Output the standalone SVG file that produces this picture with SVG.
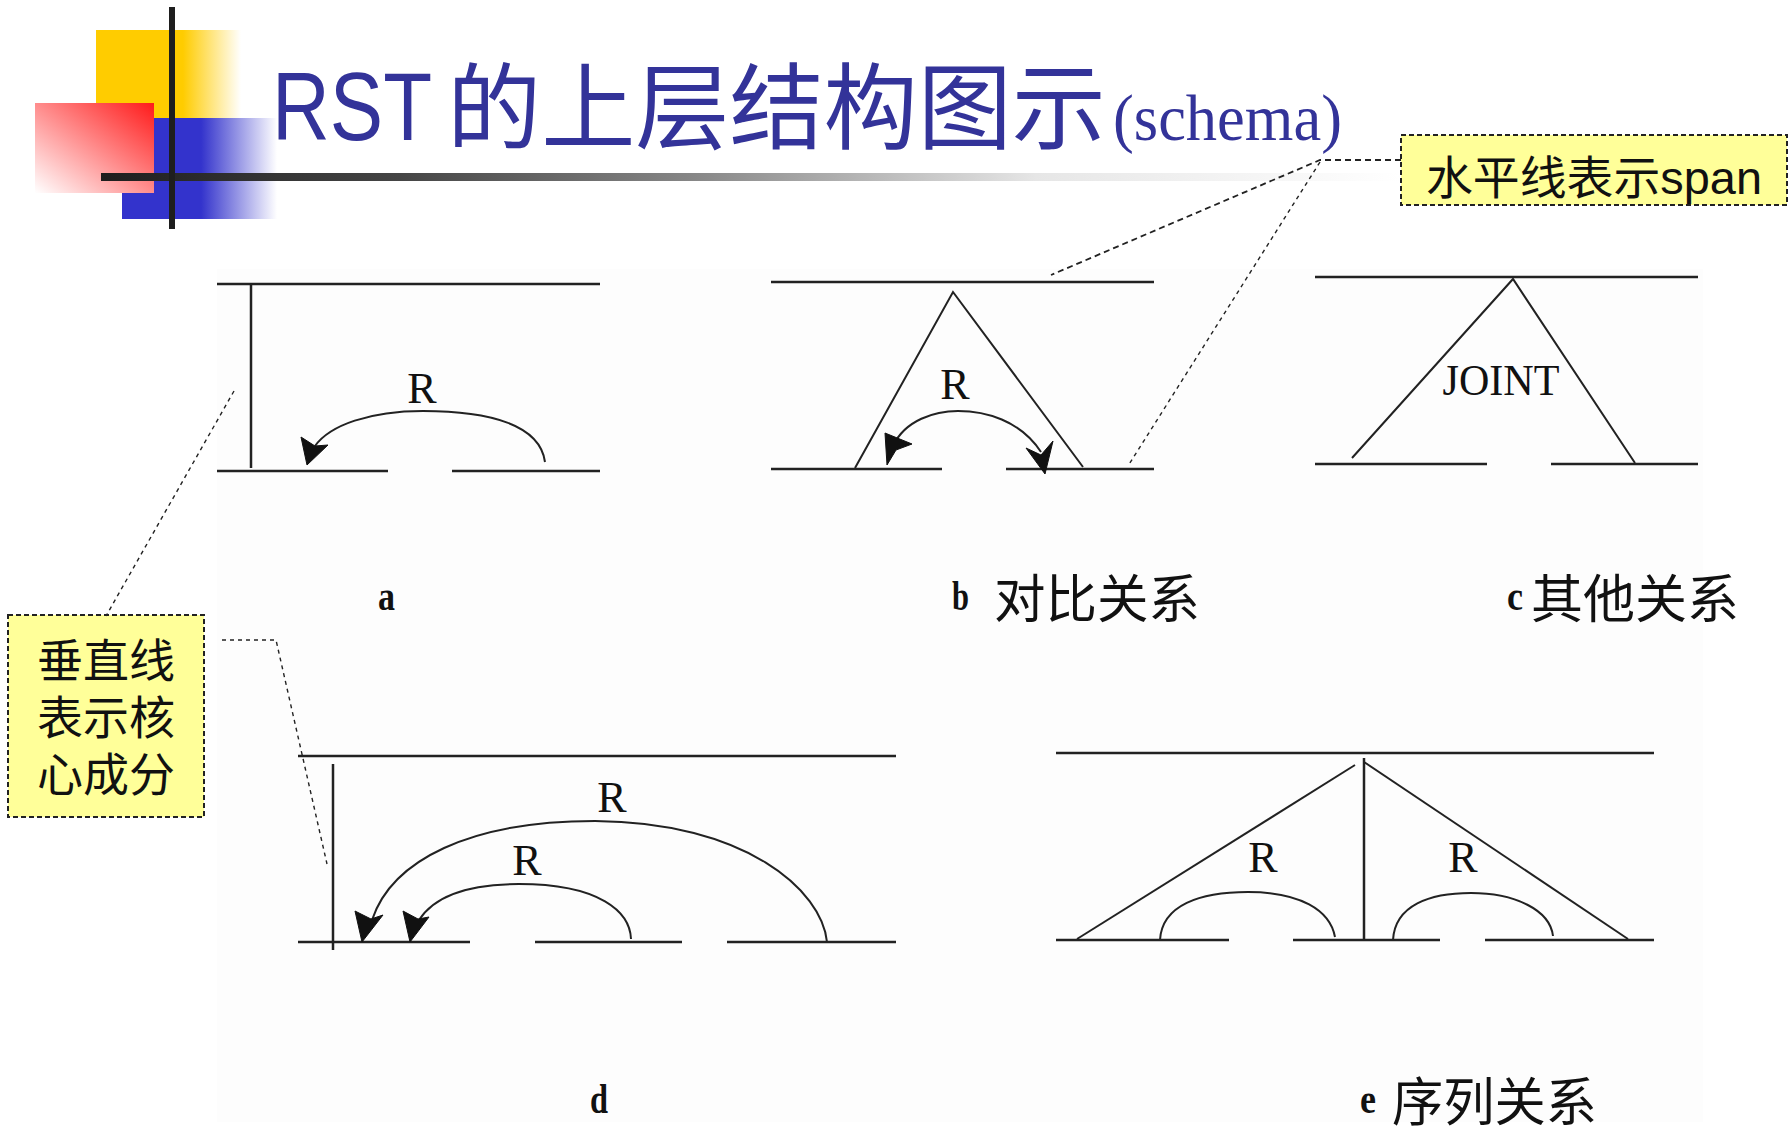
<svg xmlns="http://www.w3.org/2000/svg" width="1789" height="1136" viewBox="0 0 1789 1136">
<style>
.ln{stroke:#222;stroke-width:2.5;fill:none;stroke-linecap:butt}
.tri{stroke:#222;stroke-width:2;fill:none}
.arc{stroke:#222;stroke-width:2;fill:none}
.ah{fill:#111;stroke:#111;stroke-width:1}
.rl{font-family:"Liberation Serif",serif;font-size:44px;fill:#111;text-anchor:middle}
.lab{font-family:"Liberation Serif",serif;font-weight:bold;font-size:42px;fill:#111}
.cj{font-family:"Noto Sans CJK SC",sans-serif;font-size:52px;fill:#111}
.call{fill:#FFFF99;stroke:#222;stroke-width:2;stroke-dasharray:5,3}
.calltxt{font-family:"Liberation Sans","Noto Sans CJK SC",sans-serif;font-size:46px;fill:#111}
.dash1{stroke:#222;stroke-width:1.8;fill:none;stroke-dasharray:6,4}
.dash2{stroke:#222;stroke-width:1.4;fill:none;stroke-dasharray:4,4}
</style>
<defs>
<linearGradient id="gy" x1="96" y1="0" x2="241" y2="0" gradientUnits="userSpaceOnUse"><stop offset="0" stop-color="#FFCC00"/><stop offset="0.6" stop-color="#FFCC00"/><stop offset="1" stop-color="#FFFFFF"/></linearGradient>
<linearGradient id="gb" x1="122" y1="0" x2="277" y2="0" gradientUnits="userSpaceOnUse"><stop offset="0" stop-color="#3333CC"/><stop offset="0.51" stop-color="#3333CC"/><stop offset="1" stop-color="#FFFFFF"/></linearGradient>
<linearGradient id="gr" x1="1" y1="0" x2="0" y2="1"><stop offset="0" stop-color="#FF1A1A"/><stop offset="1" stop-color="#FFFFFF"/></linearGradient>
<linearGradient id="gbar" x1="101" y1="0" x2="1400" y2="0" gradientUnits="userSpaceOnUse"><stop offset="0" stop-color="#1E1E1E"/><stop offset="0.23" stop-color="#454545"/><stop offset="0.46" stop-color="#888888"/><stop offset="0.72" stop-color="#E6E6E6"/><stop offset="1" stop-color="#FFFFFF"/></linearGradient>
</defs>
<rect width="1789" height="1136" fill="#FFFFFF"/>
<rect x="217" y="269" width="1486" height="853" fill="#FDFDFD"/>

<g id="logo">
<rect x="96" y="30" width="145" height="88" fill="url(#gy)"/>
<rect x="122" y="118" width="155" height="101" fill="url(#gb)"/>
<rect x="35" y="103" width="119" height="90" fill="url(#gr)"/>
<rect x="101" y="173" width="1299" height="8" fill="url(#gbar)"/>
<rect x="169" y="7" width="6" height="222" fill="#1E1E1E"/>
</g>

<g id="title" fill="#333399">
<text x="272" y="140" font-family="Liberation Sans,sans-serif" font-size="96" textLength="160" lengthAdjust="spacingAndGlyphs">RST</text>
<text x="447" y="142" font-family="Noto Sans CJK SC,sans-serif" font-size="94" textLength="659" lengthAdjust="spacingAndGlyphs">的上层结构图示</text>
<text x="1113" y="140" font-family="Liberation Serif,serif" font-size="66" textLength="229" lengthAdjust="spacingAndGlyphs">(schema)</text>
</g>

<g id="callout-span">
<rect class="call" x="1401" y="135" width="386" height="70"/>
<text class="calltxt" x="1426" y="194" textLength="336" lengthAdjust="spacingAndGlyphs">水平线表示span</text>
</g>

<g id="callout-nucleus">
<rect class="call" x="8" y="615" width="196" height="202"/>
<text class="calltxt" x="106" y="677" text-anchor="middle">垂直线</text>
<text class="calltxt" x="106" y="734" text-anchor="middle">表示核</text>
<text class="calltxt" x="106" y="791" text-anchor="middle">心成分</text>
</g>

<g id="connectors">
<path class="dash1" d="M1401,160 L1320,160 L1051,275"/>
<path class="dash2" d="M1320,162 L1128,466"/>
<path class="dash2" d="M234,391 L106,616"/>
<path class="dash2" d="M222,640 L276,640 L327,864"/>
</g>

<g id="diagram-a">
<line class="ln" x1="217" y1="284" x2="600" y2="284"/>
<line class="ln" x1="251" y1="284" x2="251" y2="468"/>
<line class="ln" x1="217" y1="471" x2="388" y2="471"/>
<line class="ln" x1="452" y1="471" x2="600" y2="471"/>
<path class="arc" d="M545,462 C540,425 490,411 423,411 C370,411 330,425 315,446"/>
<polygon class="ah" points="301,437 315,446 328,445 307,465"/>
<text class="rl" x="422" y="403">R</text>
</g>

<g id="diagram-b">
<line class="ln" x1="771" y1="282" x2="1154" y2="282"/>
<line class="ln" x1="771" y1="469" x2="942" y2="469"/>
<line class="ln" x1="1006" y1="469" x2="1154" y2="469"/>
<polyline class="tri" points="855,468 953,292 1083,467"/>
<path class="arc" d="M893,446 C905,420 935,411 958,411 C985,411 1020,420 1041,452"/>
<polygon class="ah" points="885,433 912,444 896,450 887,465"/>
<polygon class="ah" points="1026,448 1041,455 1053,441 1045,474"/>
<text class="rl" x="955" y="399">R</text>
</g>

<g id="diagram-c">
<line class="ln" x1="1315" y1="277" x2="1698" y2="277"/>
<line class="ln" x1="1315" y1="464" x2="1487" y2="464"/>
<line class="ln" x1="1551" y1="464" x2="1698" y2="464"/>
<polyline class="tri" points="1352,458 1513,279 1635,463"/>
<text class="rl" x="1501" y="395" font-size="40" textLength="117" lengthAdjust="spacingAndGlyphs">JOINT</text>
</g>

<g id="diagram-d">
<line class="ln" x1="298" y1="756" x2="896" y2="756"/>
<line class="ln" x1="333" y1="764" x2="333" y2="950"/>
<line class="ln" x1="298" y1="942" x2="470" y2="942"/>
<line class="ln" x1="535" y1="942" x2="682" y2="942"/>
<line class="ln" x1="727" y1="942" x2="896" y2="942"/>
<path class="arc" d="M827,942 C822,890 745,822 595,821 C470,821 392,860 372,920"/>
<polygon class="ah" points="355,911 371,919 383,915 362,942"/>
<path class="arc" d="M631,939 C630,912 600,884 519,884 C470,884 435,895 419,920"/>
<polygon class="ah" points="403,911 418,919 429,917 410,942"/>
<text class="rl" x="612" y="812">R</text>
<text class="rl" x="527" y="875">R</text>
</g>

<g id="diagram-e">
<line class="ln" x1="1056" y1="753" x2="1654" y2="753"/>
<line class="ln" x1="1364" y1="758" x2="1364" y2="940"/>
<line class="ln" x1="1056" y1="940" x2="1229" y2="940"/>
<line class="ln" x1="1293" y1="940" x2="1440" y2="940"/>
<line class="ln" x1="1485" y1="940" x2="1654" y2="940"/>
<line class="tri" x1="1077" y1="939" x2="1355" y2="765"/>
<line class="tri" x1="1364" y1="762" x2="1628" y2="939"/>
<path class="arc" d="M1160,940 C1162,905 1200,892 1248,892 C1300,892 1330,910 1335,937"/>
<path class="arc" d="M1393,940 C1395,905 1430,893 1471,893 C1515,893 1550,910 1553,936"/>
<text class="rl" x="1263" y="872">R</text>
<text class="rl" x="1463" y="872">R</text>
</g>

<g id="labels">
<text class="lab" x="378" y="610" textLength="17" lengthAdjust="spacingAndGlyphs">a</text>
<text class="lab" x="952" y="610" textLength="17" lengthAdjust="spacingAndGlyphs">b</text>
<text class="cj" x="994" y="618" textLength="206" lengthAdjust="spacingAndGlyphs">对比关系</text>
<text class="lab" x="1507" y="610" textLength="16" lengthAdjust="spacingAndGlyphs">c</text>
<text class="cj" x="1531" y="618" textLength="208" lengthAdjust="spacingAndGlyphs">其他关系</text>
<text class="lab" x="590" y="1113" textLength="18" lengthAdjust="spacingAndGlyphs">d</text>
<text class="lab" x="1360" y="1113" textLength="16" lengthAdjust="spacingAndGlyphs">e</text>
<text class="cj" x="1392" y="1121" textLength="205" lengthAdjust="spacingAndGlyphs">序列关系</text>
</g>
</svg>
